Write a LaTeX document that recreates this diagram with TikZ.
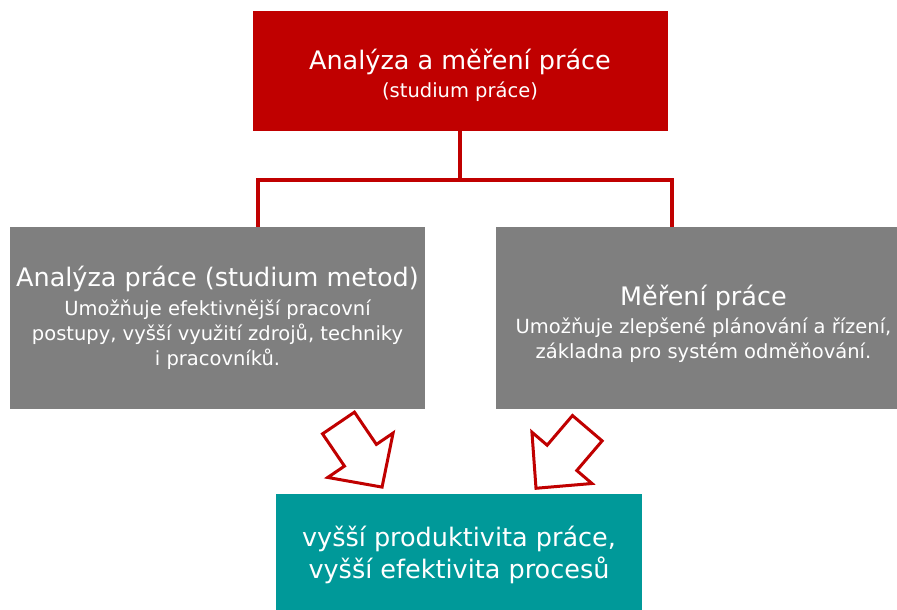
\documentclass[tikz,border=0pt]{standalone}
\usepackage{fontspec}
\setmainfont{DejaVu Sans}
\usepackage{tikz}
\usepackage{xcolor}
\usetikzlibrary{positioning}
\definecolor{wsred}{HTML}{C00000}
\definecolor{wsgrey}{HTML}{7F7F7F}
\definecolor{wsteal}{HTML}{009999}
\newcommand{\headfont}{\fontsize{25.5}{30}\selectfont}
\newcommand{\bodyfont}{\fontsize{19.5}{25}\selectfont}

\begin{document}
\begin{tikzpicture}[x=1pt, y=-1pt, font=\bodyfont,
  box/.style={inner sep=0pt, text=white, align=center},
  redbox/.style={box, fill=wsred, minimum width=415pt, minimum height=120pt},
  greybox/.style={box, fill=wsgrey, minimum width=415pt, minimum height=182pt},
  tealbox/.style={box, fill=wsteal, minimum width=366pt, minimum height=122pt, font=\headfont},
  conn/.style={draw=wsred, line width=3.2pt},
  hollowarrow/.style={draw=wsred, fill=white, line width=3pt}]
\useasboundingbox[fill=white] (0,0) rectangle (897,610);
\node[redbox, text height=57pt] (study) at (460,71)
      {{\headfont Analýza a měření práce}\\[3pt]
       (studium práce)};
\node[greybox] (analysis) at (217.5,318)
      {{\headfont Analýza práce (studium metod)}\\[4pt]
       Umožňuje efektivnější pracovní\\
       postupy, vyšší využití zdrojů, techniky\\
       i pracovníků.};
\node[greybox, text height=85pt] (measure) at (703.5,318)
      {{\headfont Měření práce}\\[3pt]
       Umožňuje zlepšené plánování a řízení,\\
       základna pro systém odměňování.};
\node[tealbox] (result) at (459,555)
      {vyšší produktivita práce,\\[2pt]
       vyšší efektivita procesů};
\coordinate (fork) at (460,180);
\coordinate (lfoot) at (258,227);
\coordinate (rfoot) at (672,227);
\draw[conn] (study.south) -- (fork);
\draw[conn] (lfoot) |- (fork) -| (rfoot);
% hollow block arrows into the result box
\draw[hollowarrow, shift={(338.5,423)}, rotate=-55.8]
  (0,-19.3) -- (39,-19.3) -- (39,-39.5) -- (77.5,0) -- (39,39.5) -- (39,19.3) -- (0,19.3) -- cycle;
\draw[hollowarrow, shift={(587.3,428.2)}, rotate=-130.5]
  (0,-19.5) -- (39,-19.5) -- (39,-39.5) -- (79,0) -- (39,39.5) -- (39,19.5) -- (0,19.5) -- cycle;
\end{tikzpicture}
\end{document}
